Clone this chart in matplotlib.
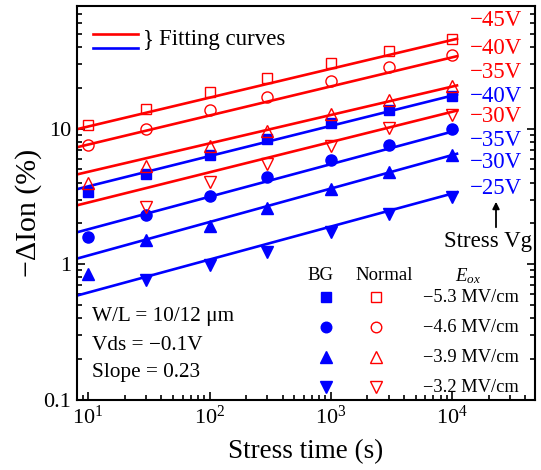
import numpy as np
import matplotlib
matplotlib.use("Agg")
import matplotlib.pyplot as plt
from matplotlib.ticker import LogLocator, FixedLocator, FixedFormatter, NullFormatter

plt.rcParams["font.family"] = ["Liberation Serif", "DejaVu Serif"]
plt.rcParams["mathtext.fontset"] = "custom"
plt.rcParams["mathtext.rm"] = "Liberation Serif"
plt.rcParams["mathtext.it"] = "Liberation Serif:italic"

# ---- data ----------------------------------------------------------------
t_full = [10, 30, 100, 300, 1000, 3000, 10000]
t_late = [30, 100, 300, 1000, 3000, 10000]

# Normal device (open red markers), -dIon (%)
normal_45 = [10.7, 14.0, 18.5, 23.5, 30.5, 37.6, 45.8]
normal_40 = [7.6, 9.9, 13.6, 17.2, 22.3, 28.3, 35.1]
normal_35 = [3.97, 5.30, 7.50, 9.67, 12.8, 16.1, 20.5]
normal_30 = [2.66, 4.02, 5.50, 7.50, 10.1, 12.6]

# BG device (filled blue markers), -dIon (%)
bg_40 = [3.40, 4.64, 6.40, 8.40, 10.9, 13.7, 17.5]
bg_35 = [1.60, 2.29, 3.21, 4.38, 5.88, 7.59, 9.95]
bg_30 = [0.85, 1.51, 1.90, 2.59, 3.60, 4.76, 6.43]
bg_25 = [0.768, 0.996, 1.24, 1.74, 2.33, 3.12]

# power-law fits: value at t = 10 s and at t = 1e4 s
fit_t = [10, 10000]
fit_normal_45 = [10.35, 45.0]
fit_normal_40 = [7.62, 33.5]
fit_normal_35 = [4.80, 20.4]
fit_normal_30 = [2.85, 13.3]
fit_bg_40 = [3.75, 17.5]
fit_bg_35 = [1.81, 9.5]
fit_bg_30 = [1.16, 6.38]
fit_bg_25 = [0.619, 3.32]

vg_labels = ["\u221245V", "\u221240V", "\u221235V", "\u221240V",
             "\u221230V", "\u221235V", "\u221230V", "\u221225V"]
vg_colors = ["red", "red", "red", "blue", "red", "blue", "blue", "blue"]

eox_labels = ["\u22125.3 MV/cm", "\u22124.6 MV/cm", "\u22123.9 MV/cm", "\u22123.2 MV/cm"]
marker_shapes = ["s", "o", "^", "v"]

xlim = (8.1, 4.8e4)
ylim = (0.1, 80)

# ---- figure --------------------------------------------------------------
fig = plt.figure(figsize=(5.41, 4.70), dpi=100)
ax = fig.add_axes([77 / 541, 1 - 400 / 470, 458 / 541, 394 / 470])
ax.set_xscale("log")
ax.set_yscale("log")
ax.set_xlim(*xlim)
ax.set_ylim(*ylim)

RED = "#ff0000"
BLUE = "#0000ff"
fit_x = np.geomspace(7.0, 1.12e4, 50)


def fit_line(vals, color):
    n = np.log10(vals[1] / vals[0]) / np.log10(fit_t[1] / fit_t[0])
    ax.plot(fit_x, vals[0] * (fit_x / fit_t[0]) ** n, color=color, lw=1.9,
            solid_capstyle="butt", zorder=2)


for vals in (fit_normal_45, fit_normal_40, fit_normal_35, fit_normal_30):
    fit_line(vals, RED)
for vals in (fit_bg_40, fit_bg_35, fit_bg_30, fit_bg_25):
    fit_line(vals, BLUE)

msizes = {"s": 7.5, "o": 8.0, "^": 9.0, "v": 9.0}

normal_sets = [(t_full, normal_45), (t_full, normal_40), (t_full, normal_35), (t_late, normal_30)]
bg_sets = [(t_full, bg_40), (t_full, bg_35), (t_full, bg_30), (t_late, bg_25)]

for (tx, vals), m in zip(bg_sets, marker_shapes):
    ax.plot(tx, vals, ls="none", marker=m, ms=msizes[m], color=BLUE,
            mec=BLUE, mfc=BLUE, zorder=3)
for (tx, vals), m in zip(normal_sets, marker_shapes):
    ax.plot(tx, vals, ls="none", marker=m, ms=msizes[m], mfc="none",
            mec=RED, mew=1.0, zorder=4)

# ---- axes styling --------------------------------------------------------
for s in ax.spines.values():
    s.set_linewidth(1.5)

ax.xaxis.set_major_locator(LogLocator(base=10, numticks=10))
ax.xaxis.set_minor_locator(LogLocator(base=10, subs=np.arange(2, 10), numticks=10))
ax.xaxis.set_minor_formatter(NullFormatter())
ax.yaxis.set_major_locator(FixedLocator([0.1, 1, 10]))
ax.yaxis.set_major_formatter(FixedFormatter(["0.1", "1", "10"]))
ax.yaxis.set_minor_locator(LogLocator(base=10, subs=np.arange(2, 10), numticks=10))
ax.yaxis.set_minor_formatter(NullFormatter())

ax.tick_params(which="both", direction="in", top=False, right=True,
               labelsize=16, width=1.2)
ax.tick_params(which="major", length=6, pad=4)
ax.tick_params(which="minor", length=3.5)

ax.set_xlabel("Stress time (s)", fontsize=19.5)
ax.set_ylabel("\u2212\u0394Ion (%)", fontsize=21.5)
ax.xaxis.set_label_coords(0.5, -0.100)
ax.yaxis.set_label_coords(-0.076, 0.475)

# ---- annotations ---------------------------------------------------------
T = ax.transAxes


def ax_xy(px, py):
    return ((px - 77) / 458, (400 - py) / 394)


# fitting-curve key
for py, c in ((33.5, RED), (48, BLUE)):
    x0, y0 = ax_xy(93, py)
    x1, _ = ax_xy(138, py)
    ax.plot([x0, x1], [y0, y0], color=c, lw=1.9, transform=T, clip_on=False)
ax.text(*ax_xy(143, 40), "}", transform=T, fontsize=16.5, va="center", ha="left")
ax.text(*ax_xy(159, 40), "Fitting curves", transform=T, fontsize=16.5,
        va="center", ha="left")

# stress-Vg column at right
vg_py = [20, 48, 73, 96, 117, 140, 163, 189]
for lab, c, py in zip(vg_labels, vg_colors, vg_py):
    ax.text(*ax_xy(470, py), lab, transform=T, color=c, fontsize=16.5,
            va="center", ha="left")
ax.annotate("", xy=ax_xy(496, 199), xytext=ax_xy(496, 230), xycoords=T,
            textcoords=T, arrowprops=dict(arrowstyle="-|>", color="black",
                                          lw=1.3, mutation_scale=10))
ax.text(*ax_xy(488, 241), "Stress Vg", transform=T, fontsize=16.5,
        va="center", ha="center")

# device parameters
for py, s in ((316, "W/L = 10/12 \u03bcm"), (345, "Vds = \u22120.1V"),
              (373, "Slope = 0.23")):
    ax.text(*ax_xy(92, py), s, transform=T, fontsize=15.3, va="center", ha="left")

# marker key
ax.text(*ax_xy(320, 276), "BG", transform=T, fontsize=13.5, va="center", ha="center")
ax.text(*ax_xy(384, 276), "Normal", transform=T, fontsize=13.5, va="center", ha="center")
ax.text(*ax_xy(468, 276), r"$E_{ox}$", transform=T, fontsize=13.5, va="center", ha="center")
for py, m, lab in zip([297, 327, 357, 387], marker_shapes, eox_labels):
    ax.plot(*ax_xy(325.5, py), marker=m, ms=msizes[m] * 0.95, color=BLUE,
            transform=T, clip_on=False, ls="none")
    ax.plot(*ax_xy(376, py), marker=m, ms=msizes[m] * 0.95, mfc="none",
            mec=RED, mew=1.0, transform=T, clip_on=False, ls="none")
    ax.text(*ax_xy(423, py), lab, transform=T, fontsize=13.3, va="center", ha="left")

fig.savefig("out.png", dpi=100)
